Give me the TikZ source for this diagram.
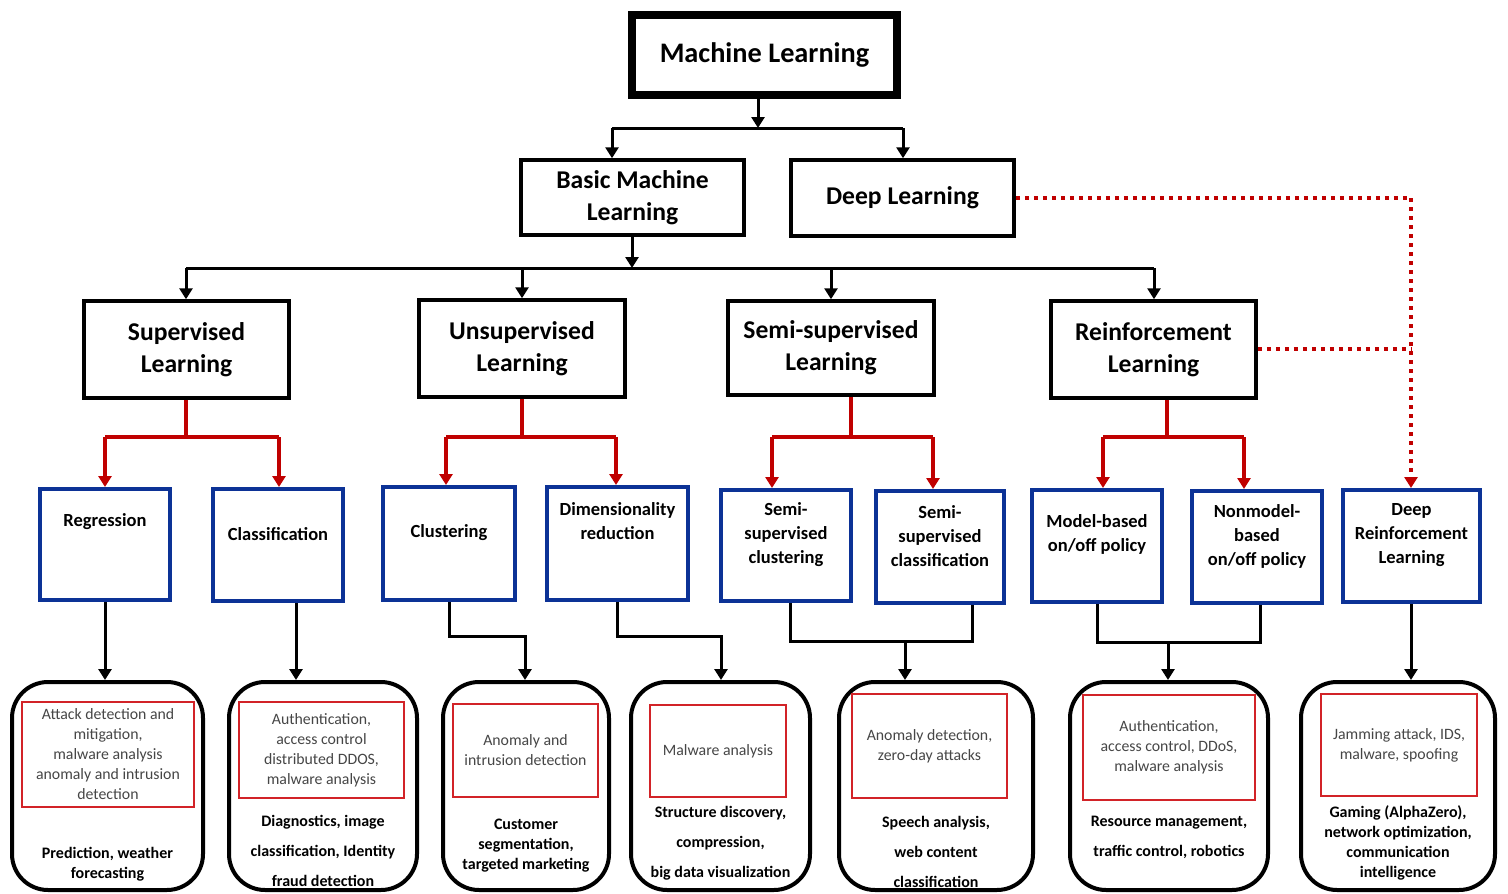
\documentclass[tikz,border=0pt]{standalone}
\usepackage{fontspec}
\setmainfont{Carlito}
\usetikzlibrary{arrows.meta}
\definecolor{boxblue}{RGB}{12,50,150}
\definecolor{linkred}{RGB}{192,0,0}
\definecolor{frame}{RGB}{210,35,40}
\definecolor{usegray}{RGB}{70,70,70}
\tikzset{
  mltop/.style={draw, line width=8pt, minimum width=265pt, minimum height=80pt,
    font=\fontsize{28.3}{32}\selectfont\bfseries},
  catbox/.style={draw, line width=3.5pt, align=center,
    font=\fontsize{25.6}{32}\selectfont\bfseries},
  subbox/.style={draw=boxblue, line width=4pt},
  subtext/.style={align=center, inner sep=0pt, font=\fontsize{18.5}{24}\selectfont\bfseries},
  appbox/.style={draw, line width=4pt, rounded corners=36pt, minimum height=208pt},
  threat/.style={draw=frame, line width=2pt, align=center, text=usegray,
    font=\fontsize{15.8}{20}\selectfont},
  appl/.style={align=center, inner sep=0pt, font=\fontsize{16}{20}\selectfont\bfseries},
  applwide/.style={appl, font=\fontsize{16}{30}\selectfont\bfseries},
  wire/.style={line width=3pt},
  conn/.style={wire, -{Triangle[width=13pt,length=11pt]}},
  rwire/.style={draw=linkred, line width=3.5pt},
  rconn/.style={rwire, -{Triangle[width=13pt,length=11pt]}, color=linkred},
  dots/.style={draw=linkred, line width=4pt, dash pattern=on 4pt off 5pt},
}
\begin{document}
\begin{tikzpicture}[x=1pt, y=-1pt]
\useasboundingbox[fill=white] (0,0) rectangle (1508,894);

% ---- root and first split
\node[mltop] (ml) at (764.5,55) {Machine Learning};
\node[catbox, minimum width=223pt, minimum height=75pt] (basic) at (632.5,197.5) {Basic Machine\\Learning};
\node[catbox, minimum width=223pt, minimum height=76pt] (deep) at (902.5,198) {Deep Learning};

% ---- learning paradigms
\node[catbox, minimum width=205pt, minimum height=97pt] (sup) at (186.5,349.5) {Supervised\\Learning};
\node[catbox, minimum width=206pt, minimum height=97pt] (unsup) at (522,348.5) {Unsupervised\\Learning};
\node[catbox, minimum width=206pt, minimum height=94pt] (semi) at (831,348) {Semi-supervised\\Learning};
\node[catbox, minimum width=205pt, minimum height=97pt] (reinf) at (1153.5,349.5) {Reinforcement\\Learning};

% ---- task boxes
\node[subbox, minimum width=130pt, minimum height=111pt] (reg) at (105,544.5) {};
\node[subbox, minimum width=130pt, minimum height=112pt] (cls) at (278,545) {};
\node[subbox, minimum width=132pt, minimum height=113pt] (clu) at (449,543.5) {};
\node[subbox, minimum width=141pt, minimum height=113pt] (dim) at (617.5,543.5) {};
\node[subbox, minimum width=130pt, minimum height=111pt] (ssclu) at (786,545.5) {};
\node[subbox, minimum width=128pt, minimum height=112pt] (sscls) at (940,547) {};
\node[subbox, minimum width=130pt, minimum height=112pt] (mb) at (1097,546) {};
\node[subbox, minimum width=130pt, minimum height=112pt] (nmb) at (1257,547) {};
\node[subbox, minimum width=137pt, minimum height=112pt] (drl) at (1411.5,546) {};

\node[subtext] (regT) at (105,522) {Regression};
\node[subtext] (clsT) at (278,534) {Classification};
\node[subtext] (cluT) at (449,533) {Clustering};
\node[subtext] (dimT) at (617.5,521) {Dimensionality\\reduction};
\node[subtext] (ssluT) at (786,535) {Semi-\\supervised\\clustering};
\node[subtext] (sslsT) at (940,536) {Semi-\\supervised\\classification};
\node[subtext] (mbT) at (1097,534.5) {Model-based\\on/off policy};
\node[subtext] (nmbT) at (1257,536) {Nonmodel-\\based\\on/off policy};
\node[subtext] (drlT) at (1411.5,535) {Deep\\Reinforcement\\Learning};

% ---- application boxes
\node[appbox, minimum width=191pt] (a1) at (107.5,786) {};
\node[appbox, minimum width=188pt] (a2) at (323,786) {};
\node[appbox, minimum width=166pt] (a3) at (526,786) {};
\node[appbox, minimum width=179pt] (a4) at (720.5,786) {};
\node[appbox, minimum width=194pt] (a5) at (936,786) {};
\node[appbox, minimum width=198pt] (a6) at (1169,786) {};
\node[appbox, minimum width=194pt] (a7) at (1398,786) {};

\node[threat, minimum width=172pt, minimum height=105pt] (t1) at (108,754.5)
  {Attack detection and\\mitigation,\\malware analysis\\anomaly and intrusion\\detection};
\node[threat, minimum width=165pt, minimum height=96pt] (t2) at (321.5,750)
  {Authentication,\\access control\\distributed DDOS,\\malware analysis};
\node[threat, minimum width=145pt, minimum height=93pt] (t3) at (525.5,750.5)
  {Anomaly and\\intrusion detection};
\node[threat, minimum width=136pt, minimum height=92pt] (t4) at (718,751)
  {Malware analysis};
\node[threat, minimum width=155pt, minimum height=104pt] (t5) at (929.5,746)
  {Anomaly detection,\\zero-day attacks};
\node[threat, minimum width=172pt, minimum height=105pt] (t6) at (1169,747.5)
  {Authentication,\\access control, DDoS,\\malware analysis};
\node[threat, minimum width=156pt, minimum height=102pt] (t7) at (1399,745)
  {Jamming attack, IDS,\\malware, spoofing};

\node[appl] (u1) at (107.5,864) {Prediction, weather\\forecasting};
\node[applwide] (u2) at (323,851) {Diagnostics, image\\classification, Identity\\fraud detection};
\node[appl] (u3) at (526,846) {Customer\\segmentation,\\targeted marketing};
\node[applwide] (u4) at (720.5,843) {Structure discovery,\\compression,\\big data visualization};
\node[applwide] (u5) at (936,852) {Speech analysis,\\web content\\classification};
\node[applwide] (u6) at (1169,837) {Resource management,\\traffic control, robotics};
\node[appl] (u7) at (1398,843) {Gaming (AlphaZero),\\network optimization,\\communication\\intelligence};

% ---- root to first split
\coordinate (j0) at (758,128);
\coordinate (j0l) at (612,128);
\coordinate (j0r) at (903,128);
\draw[conn] (ml.south -| j0) -- (j0);
\draw[wire] (j0l) -- (j0r);
\draw[conn] (j0l) -- (j0l |- basic.north);
\draw[conn] (j0r) -- (j0r |- deep.north);

% ---- basic ML to paradigms
\coordinate (j1) at (632,268);
\coordinate (j1a) at (186,268);
\coordinate (j1b) at (522,268);
\coordinate (j1c) at (831,268);
\coordinate (j1d) at (1154,268);
\draw[conn] (basic.south -| j1) -- (j1);
\draw[wire] (j1a) -- (j1d);
\foreach \c/\n in {j1a/sup, j1b/unsup, j1c/semi, j1d/reinf}
  \draw[conn] (\c) -- (\c |- \n.north);

% ---- paradigms to tasks (red)
\foreach \src/\sx/\lx/\rx/\ln/\rn in {sup/186/105/279/reg/cls, unsup/522/446/616/clu/dim,
    semi/851/772/933/ssclu/sscls, reinf/1167/1103/1244/mb/nmb}{
  \coordinate (s) at (\sx,437);
  \coordinate (l) at (\lx,437);
  \coordinate (r) at (\rx,437);
  \draw[rwire] (\src.south -| s) -- (s);
  \draw[rwire] (l) -- (r);
  \draw[rconn] (l) -- (l |- \ln.north);
  \draw[rconn] (r) -- (r |- \rn.north);
}

% ---- deep learning feeds deep RL (dotted)
\coordinate (dk) at (1411,198);
\coordinate (rk) at (1411,349);
\draw[dots] (deep.east) -- (dk);
\draw[dots, -{Triangle[width=13pt,length=11pt]}] (dk) -- (dk |- drl.north);
\draw[dots] (reinf.east |- rk) -- (rk);

% ---- tasks to applications
\coordinate (k1) at (105,0);
\coordinate (k2) at (296,0);
\draw[conn] (reg.south -| k1) -- (a1.north -| k1);
\draw[conn] (cls.south -| k2) -- (a2.north -| k2);

\coordinate (c3a) at (449,636);
\coordinate (c3b) at (525,636);
\draw[conn] (clu.south -| c3a) -- (c3a) -- (c3b) -- (a3.north -| c3b);
\coordinate (c4a) at (617,636);
\coordinate (c4b) at (721,636);
\draw[conn] (dim.south -| c4a) -- (c4a) -- (c4b) -- (a4.north -| c4b);

\coordinate (c5a) at (790,641);
\coordinate (c5b) at (972,641);
\coordinate (c5m) at (905,641);
\draw[wire] (ssclu.south -| c5a) -- (c5a) -- (c5b) -- (sscls.south -| c5b);
\draw[conn] (c5m) -- (a5.north -| c5m);

\coordinate (c6a) at (1097,642);
\coordinate (c6b) at (1260,642);
\coordinate (c6m) at (1168,642);
\draw[wire] (mb.south -| c6a) -- (c6a) -- (c6b) -- (nmb.south -| c6b);
\draw[conn] (c6m) -- (a6.north -| c6m);

\coordinate (k7) at (1411,0);
\draw[conn] (drl.south -| k7) -- (a7.north -| k7);
\end{tikzpicture}
\end{document}
